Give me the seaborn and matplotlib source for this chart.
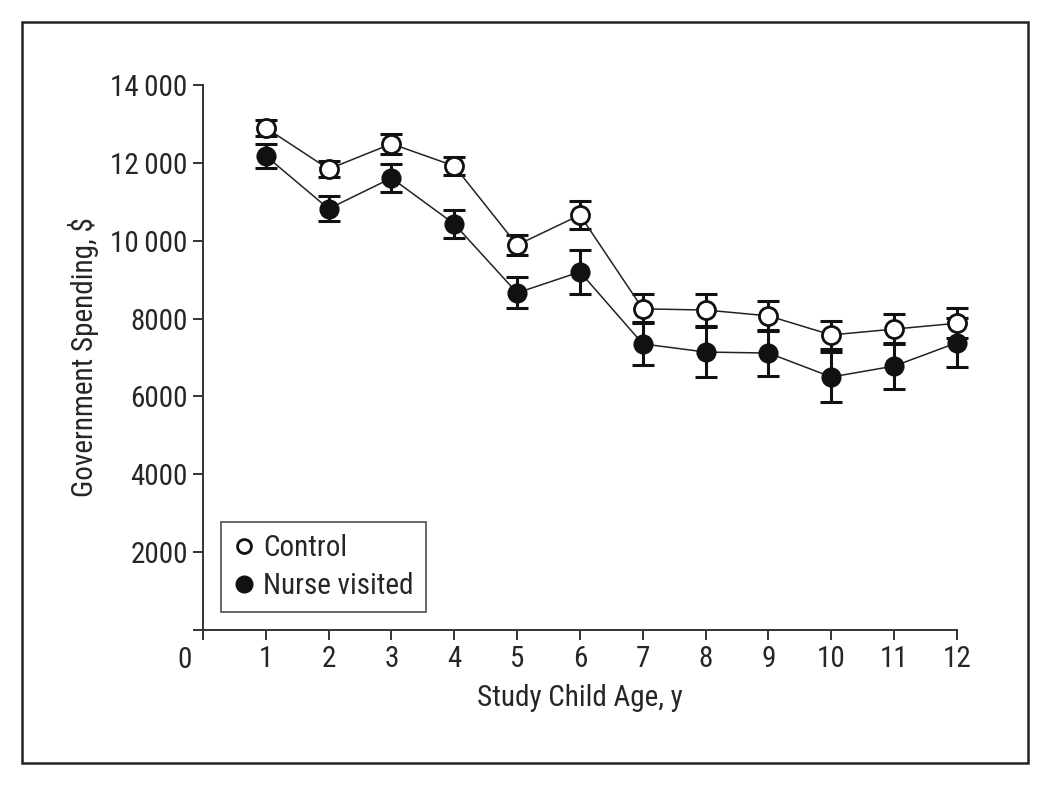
import pandas as pd
import seaborn as sns
import numpy as np
import matplotlib.pyplot as plt
from matplotlib.patches import Rectangle
from matplotlib.lines import Line2D

# valores
idade = list(range(1, 13))
controle = [12900, 11840, 12490, 11920, 9890, 10660, 8250, 8220, 8070, 7580, 7730, 7880]
controle_err = [200, 200, 250, 240, 250, 370, 370, 400, 390, 370, 390, 390]
visitado = [12180, 10820, 11610, 10430, 8660, 9200, 7350, 7140, 7115, 6500, 6780, 7380]
visitado_err = [300, 320, 360, 360, 400, 560, 550, 640, 600, 640, 600, 630]
yticks = [0, 2000, 4000, 6000, 8000, 10000, 12000, 14000]
ytick_labels = ['', '2000', '4000', '6000', '8000', '10\u2009000', '12\u2009000', '14\u2009000']

df = pd.DataFrame({
    'idade': idade * 2,
    'gasto': controle + visitado,
    'grupo': ['Control'] * 12 + ['Nurse visited'] * 12,
})

#%%
sns.set_style('ticks')
plt.rcParams['font.family'] = ['Roboto Condensed', 'Liberation Sans', 'DejaVu Sans']
fs = 21

fig = plt.figure(figsize=(10.5, 7.9), dpi=100)
ax = fig.add_axes([0.1933, 0.2025, 0.7181, 0.6899])

# barras de erro primeiro, marcadores por cima
for vals, errs in [(controle, controle_err), (visitado, visitado_err)]:
    eb = ax.errorbar(idade, vals, yerr=errs, fmt='none', ecolor='#111111',
                     elinewidth=2.2, capsize=8, capthick=2.2, zorder=2)
    for art in eb.lines[1] + eb.lines[2]:
        art.set_clip_on(False)

sns.lineplot(data=df[df['grupo'] == 'Control'], x='idade', y='gasto', ax=ax,
             color='#222222', linewidth=1.1, marker='o', markersize=13,
             markerfacecolor='white', markeredgecolor='#111111', markeredgewidth=2,
             zorder=3, legend=False, clip_on=False)
sns.lineplot(data=df[df['grupo'] == 'Nurse visited'], x='idade', y='gasto', ax=ax,
             color='#222222', linewidth=1.1, marker='o', markersize=13,
             markerfacecolor='#111111', markeredgecolor='#111111', markeredgewidth=1.5,
             zorder=3, legend=False, clip_on=False)

ax.set_xlim(0, 12)
ax.set_ylim(0, 14000)
ax.set_xticks(range(0, 13))
ax.set_xticklabels([''] + [str(i) for i in idade])
ax.set_yticks(yticks)
ax.set_yticklabels(ytick_labels)
ax.tick_params(labelsize=fs, length=7, width=1.4, color='#333333', pad=4)
ax.text(-0.3, -0.03, '0', transform=ax.get_xaxis_transform(), fontsize=fs,
        ha='center', va='top')

for s in ['top', 'right']:
    ax.spines[s].set_visible(False)
for s in ['left', 'bottom']:
    ax.spines[s].set_linewidth(1.4)
    ax.spines[s].set_color('#333333')

ax.set_xlabel('Study Child Age, y', fontsize=fs, labelpad=8)
ax.set_ylabel('Government Spending, $', fontsize=fs, labelpad=8)

handles = [
    Line2D([], [], linestyle='none', marker='o', markersize=10, markerfacecolor='white',
           markeredgecolor='#111111', markeredgewidth=2, label='Control'),
    Line2D([], [], linestyle='none', marker='o', markersize=12, markerfacecolor='#111111',
           markeredgecolor='#111111', label='Nurse visited'),
]
leg = ax.legend(handles=handles, loc='lower left', bbox_to_anchor=(0.024, 0.033),
                borderaxespad=0, fontsize=fs, frameon=True, fancybox=False,
                handletextpad=0.25, handlelength=0.8, borderpad=0.4, labelspacing=0.35)
leg.get_frame().set_edgecolor('#333333')
leg.get_frame().set_linewidth(1.3)

# moldura externa
fig.patches.append(Rectangle((22 / 1050, 1 - 763 / 790), 1006 / 1050, 741 / 790,
                             transform=fig.transFigure, fill=False,
                             edgecolor='#222222', linewidth=1.8))

fig.savefig('out.png', dpi=100)
